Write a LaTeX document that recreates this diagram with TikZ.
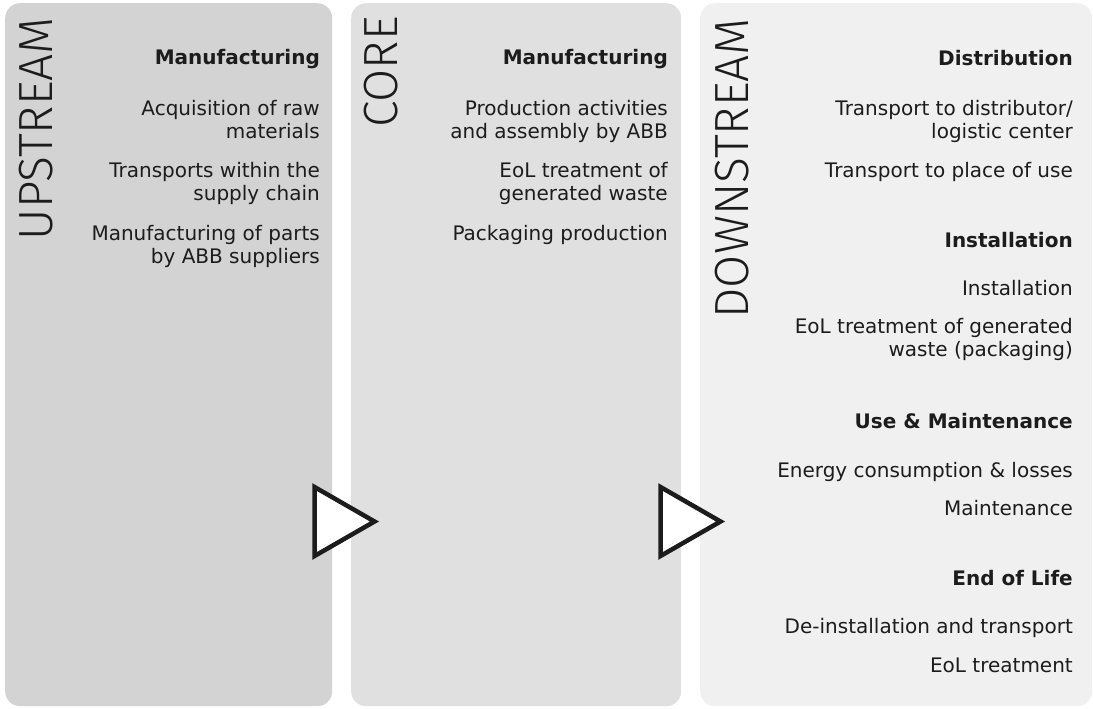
\documentclass[tikz,border=0pt]{standalone}
\usepackage{fontspec}
\setmainfont{DejaVu Sans}
\IfFontExistsTF{Fira Sans Light}
  {\newfontfamily\stagefont{Fira Sans Light}}
  {\IfFontExistsTF{DejaVu Sans ExtraLight}
    {\newfontfamily\stagefont{DejaVu Sans ExtraLight}}
    {\newfontfamily\stagefont{DejaVu Sans}}}
\definecolor{upgray}{HTML}{D3D3D3}
\definecolor{coregray}{HTML}{E0E0E0}
\definecolor{downgray}{HTML}{F0F0F0}
\definecolor{ink}{HTML}{1C1C1C}
\tikzset{panel/.style={rounded corners=15pt, inner sep=0pt, anchor=north west, minimum height=703pt}}
\tikzset{stage/.style={rotate=90, anchor=base east, inner sep=0pt, text=ink, font=\stagefont\fontsize{48}{48}\selectfont}}
\tikzset{head/.style={anchor=base east, inner sep=0pt, text=ink, font=\bfseries\fontsize{20}{23}\selectfont}}
\tikzset{item/.style={anchor=base east, align=right, inner sep=0pt, text=ink, font=\fontsize{20}{23}\selectfont}}
\tikzset{fwd/.style={draw=ink, line width=4.5pt, fill=white}}

\begin{document}
\begin{tikzpicture}[x=1pt, y=-1pt]
\useasboundingbox (0,0) rectangle (1093,709);

\node (upstream) [panel, fill=upgray, minimum width=327pt] at (5,3) {};
\node (core) [panel, fill=coregray, minimum width=330pt] at (351,3) {};
\node (downstream) [panel, fill=downgray, minimum width=392pt] at (700,3) {};

\node (upT) [stage] at (52,17) {UPSTREAM};
\node (coreT) [stage] at (397,16) {CORE};
\node (downT) [stage] at (748,18) {DOWNSTREAM};

% upstream (two-line items sit on their last baseline)
\node (upH) [head] at (320,65) {Manufacturing};
\node (up1) [item] at (320,138) {Acquisition of raw\\materials};
\node (up2) [item] at (320,200) {Transports within the\\supply chain};
\node (up3) [item] at (320,263) {Manufacturing of parts\\by ABB suppliers};

% core
\node (coreH) [head] at (668,65) {Manufacturing};
\node (core1) [item] at (668,138) {Production activities\\and assembly by ABB};
\node (core2) [item] at (668,200) {EoL treatment of\\generated waste};
\node (core3) [item] at (668,240) {Packaging production};

% downstream
\node (distH) [head] at (1073,66) {Distribution};
\node (dist1) [item] at (1073,138) {Transport to distributor/\\logistic center};
\node (dist2) [item] at (1073,177) {Transport to place of use};
\node (instH) [head] at (1073,247) {Installation};
\node (inst1) [item] at (1073,295) {Installation};
\node (inst2) [item] at (1073,356) {EoL treatment of generated\\waste (packaging)};
\node (useH) [head] at (1073,428) {Use \& Maintenance};
\node (use1) [item] at (1073,477) {Energy consumption \& losses};
\node (use2) [item] at (1073,515) {Maintenance};
\node (eolH) [head] at (1073,585) {End of Life};
\node (eol1) [item] at (1073,633) {De-installation and transport};
\node (eol2) [item] at (1073,672) {EoL treatment};

% flow marks
\draw[fwd] (314.5,487) -- (374.5,521.5) -- (314.5,556) -- cycle;
\draw[fwd] (660.5,487) -- (720.5,521.5) -- (660.5,556) -- cycle;
\end{tikzpicture}
\end{document}
